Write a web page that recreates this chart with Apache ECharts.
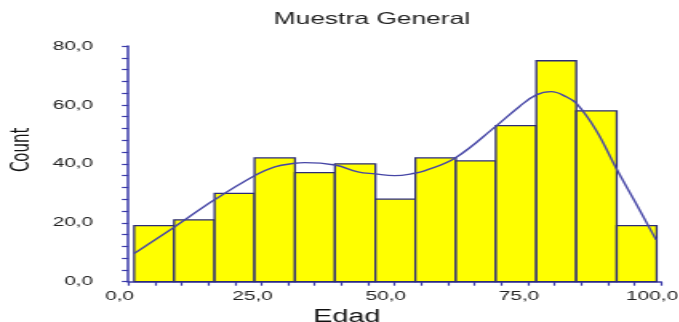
<!DOCTYPE html>
<html>
<head>
<meta charset="utf-8">
<script src="https://cdn.jsdelivr.net/npm/echarts@6/dist/echarts.min.js"></script>
<style>
  html, body { margin: 0; padding: 0; background: #fff; overflow: hidden; }
  #wrap { width: 679px; height: 322px; overflow: hidden; position: relative; }
  #chart { width: 424.375px; height: 322px; transform: scaleX(1.6); transform-origin: 0 0; position: absolute; left: 0; top: 0; }
</style>
</head>
<body>
<div id="wrap"><div id="chart"></div></div>
<script>
// Histogram bins (Edad) and counts
const binEdges = [1.1, 8.6, 16.2, 23.7, 31.3, 38.8, 46.4, 53.9, 61.5, 69.0, 76.6, 84.1, 91.7, 99.2];
const counts = [19, 21, 30, 42, 37, 40, 28, 42, 41, 53, 75, 58, 19];

// Density curve (scaled to counts)
const curveAge = [1.1, 8.6, 16.1, 23.6, 27.5, 31.3, 33.1, 38.8, 43.1, 46.3, 50.0, 53.8, 55.6, 61.3, 69.1, 73.4, 76.6, 79.4, 82.2, 84.1, 87.8, 91.6, 95.3, 99.1];
const curveCount = [9.6, 18.5, 27.7, 35.9, 39.0, 40.2, 40.4, 39.6, 37.3, 36.6, 36.0, 36.8, 37.6, 41.9, 52.9, 59.4, 63.4, 64.5, 62.8, 60.6, 51.5, 38.5, 26.6, 14.2];

// Axis ticks
const xTicks = [0, 25, 50, 75, 100];
const yTicks = [0, 20, 40, 60, 80];

const titleText = 'Muestra General';
const xName = 'Edad';
const yName = 'Count';

const barData = counts.map((c, i) => [binEdges[i], binEdges[i + 1], c]);
const curveData = curveAge.map((a, i) => [a, curveCount[i]]);

const axisColor = '#3a3aa8';
const fmt = v => v.toFixed(1).replace('.', ',');

const chart = echarts.init(document.getElementById('chart'));
chart.setOption({
  animation: false,
  title: {
    text: titleText,
    left: 166,
    top: 6,
    textStyle: { fontFamily: 'Liberation Sans', fontSize: 16.5, fontWeight: 'normal', color: '#222' }
  },
  grid: { left: 80.2, right: 10.9, top: 46, bottom: 40.3, containLabel: false, outerBoundsMode: 'none' },
  xAxis: {
    type: 'value',
    min: xTicks[0],
    max: xTicks[xTicks.length - 1],
    interval: 25,
    name: xName,
    nameLocation: 'middle',
    nameGap: 20,
    nameTextStyle: { fontFamily: 'Liberation Sans', fontSize: 18, color: '#111', padding: [0, 60, 0, 0] },
    axisLine: { show: true, lineStyle: { color: axisColor, width: 1.5 } },
    axisTick: { show: true, inside: false, length: 4, lineStyle: { color: axisColor, width: 1.2 } },
    minorTick: { show: true, splitNumber: 5, length: 4, lineStyle: { color: axisColor, width: 1.2 } },
    splitLine: { show: false },
    axisLabel: { formatter: fmt, margin: 8, padding: [0, 11, 0, 0], fontFamily: 'Liberation Sans', fontSize: 13, color: '#222' }
  },
  yAxis: {
    type: 'value',
    min: yTicks[0],
    max: yTicks[yTicks.length - 1],
    interval: 20,
    name: yName,
    nameLocation: 'middle',
    nameRotate: 90,
    nameGap: 58,
    nameTextStyle: { fontFamily: 'DejaVu Sans', fontSize: 15, color: '#111', padding: [0, 0, 0, 28] },
    axisLine: { show: true, lineStyle: { color: axisColor, width: 1.5 } },
    axisTick: { show: true, inside: false, length: 4, lineStyle: { color: axisColor, width: 1.2 } },
    minorTick: { show: true, splitNumber: 5, length: 4, lineStyle: { color: axisColor, width: 1.2 } },
    splitLine: { show: false },
    axisLabel: { formatter: fmt, margin: 22, fontFamily: 'Liberation Sans', fontSize: 13, color: '#222' }
  },
  series: [
    {
      type: 'custom',
      data: barData,
      encode: { x: [0, 1], y: 2 },
      renderItem: function (params, api) {
        const p0 = api.coord([api.value(0), api.value(2)]);
        const p1 = api.coord([api.value(1), 0]);
        return {
          type: 'rect',
          shape: { x: p0[0], y: p0[1], width: p1[0] - p0[0], height: p1[1] - p0[1] },
          style: { fill: '#ffff00', stroke: '#2b2b78', lineWidth: 1.3 }
        };
      },
      z: 2
    },
    {
      type: 'line',
      data: curveData,
      smooth: 0.4,
      symbol: 'none',
      lineStyle: { color: '#4646a6', width: 1.4 },
      z: 3
    }
  ]
});
</script>
</body>
</html>
